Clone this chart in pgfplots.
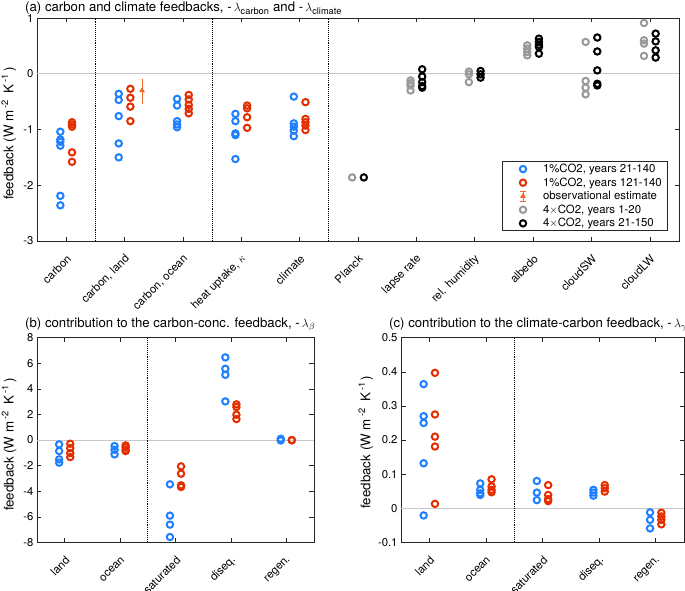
\documentclass[border=0pt]{standalone}
\usepackage{fontspec}
\setmainfont{TeX Gyre Heros}
\usepackage{amsmath}
\usepackage{pgfplots}
\pgfplotsset{compat=1.18}
\definecolor{mblue}{rgb}{0.12,0.50,1.00}
\definecolor{mred}{rgb}{0.90,0.18,0.00}
\definecolor{morange}{rgb}{0.93,0.42,0.15}
\definecolor{mgray}{rgb}{0.60,0.60,0.60}
\newcommand{\tkf}{\fontsize{11.3}{13}\selectfont}
\newcommand{\lbf}{\fontsize{13.3}{15}\selectfont}
\newcommand{\ttf}{\fontsize{13.2}{15}\selectfont}
\newcommand{\ylab}{feedback (W m\hspace{2.5pt}\textsuperscript{-2}\hspace{2.5pt} K\hspace{2pt}\textsuperscript{-1}\hspace{2pt})}
\pgfplotsset{
  myaxis/.style={
    scale only axis, anchor=north west,
    tick align=inside, major tick length=4.5pt,
    axis line style={black!85, line width=0.6pt},
    every tick/.style={black!85, line width=0.6pt},
    tick label style={font=\tkf},
    /pgf/number format/assume math mode=true,
    xticklabel style={anchor=east, inner sep=0pt, xshift=3pt, yshift=-16pt, rotate=45},
    legend image code/.code={\draw[##1] plot coordinates {(0pt,0pt)}; \path[draw=none,fill=none] (-18pt,-1pt) rectangle (17pt,1pt);},
  },
  obsleg/.style={legend image code/.code={\draw[morange, line width=1pt] (0pt,-5pt)--(0pt,5pt) (-3pt,-5pt)--(3pt,-5pt) (-3pt,5pt)--(3pt,5pt); \draw[##1] plot coordinates {(0pt,0pt)}; \path[draw=none,fill=none] (-18pt,-1pt) rectangle (17pt,1pt);}},
  bl/.style={only marks, mark=o, mark size=3.2pt, line width=2pt, color=mblue},
  rd/.style={only marks, mark=o, mark size=3.2pt, line width=2pt, color=mred},
  gr/.style={only marks, mark=o, mark size=3.2pt, line width=2pt, color=mgray},
  bk/.style={only marks, mark=o, mark size=3.2pt, line width=2pt, color=black},
  zl/.style={forget plot, black!22, line width=0.8pt},
  dl/.style={forget plot, black, line width=1.1pt, densely dotted},
}
\begin{document}
\begin{tikzpicture}
\useasboundingbox (0pt,0pt) rectangle (685pt,-591pt);
% titles
\node[anchor=base west, inner sep=0pt, font=\ttf] at (25pt,-11.7pt) {(a) carbon and climate feedbacks, -\,$\lambda_{\text{carbon}}$ and -\,$\lambda_{\text{climate}}$};
\node[anchor=base west, inner sep=0pt, font=\ttf] at (25pt,-327.7pt) {(b) contribution to the carbon-conc. feedback, -\,$\lambda_{\beta}$};
\node[anchor=base west, inner sep=0pt, font=\ttf] at (389pt,-327.7pt) {(c) contribution to the climate-carbon feedback, -\,$\lambda_{\gamma}$};
% ---------------- panel (a)
\begin{axis}[myaxis,
  at={(37pt,-18pt)}, width=642pt, height=223pt,
  xmin=0.5, xmax=11.5, ymin=-3, ymax=1,
  xtick={1,...,11},
  xticklabels={carbon,{carbon, land},{carbon, ocean},{heat uptake, $\kappa$},climate,Planck,lapse rate,rel. humidity,albedo,cloudSW,cloudLW},
  ytick={-3,-2,-1,0,1},
  ylabel={\ylab},
  every axis y label/.style={at={(axis description cs:-0.044,0.482)}, rotate=90, anchor=center, font=\lbf},
  legend style={at={(0.983,0.045)}, anchor=south east, draw=black!85, line width=0.6pt,
    font=\fontsize{11.4}{13}\selectfont, inner xsep=3pt, inner ysep=0.5pt,
    nodes={inner ysep=1.8pt, inner xsep=3pt}, cells={anchor=west}},
]
\addplot[zl] coordinates {(0.5,0) (11.5,0)};
\addplot[dl] coordinates {(1.5,-3) (1.5,1)};
\addplot[dl] coordinates {(3.5,-3) (3.5,1)};
\addplot[dl] coordinates {(5.5,-3) (5.5,1)};
\addplot[bl] coordinates {
 (0.9,-1.04) (0.9,-1.18) (0.9,-1.22) (0.9,-1.29) (0.9,-2.19) (0.9,-2.36)
 (1.9,-0.36) (1.9,-0.47) (1.9,-0.76) (1.9,-1.25) (1.9,-1.50)
 (2.9,-0.45) (2.9,-0.57) (2.9,-0.85) (2.9,-0.91) (2.9,-0.96)
 (3.9,-0.72) (3.9,-0.85) (3.9,-1.07) (3.9,-1.10) (3.9,-1.53)
 (4.9,-0.41) (4.9,-0.89) (4.9,-0.95) (4.9,-1.02) (4.9,-1.12)};
\addlegendentry{1\%CO2, years 21-140}
\addplot[rd] coordinates {
 (1.1,-0.87) (1.1,-0.91) (1.1,-0.95) (1.1,-1.41) (1.1,-1.58)
 (2.1,-0.27) (2.1,-0.43) (2.1,-0.59) (2.1,-0.85)
 (3.1,-0.38) (3.1,-0.46) (3.1,-0.56) (3.1,-0.63) (3.1,-0.71)
 (4.1,-0.57) (4.1,-0.62) (4.1,-0.78) (4.1,-0.97)
 (5.1,-0.51) (5.1,-0.81) (5.1,-0.87) (5.1,-0.93) (5.1,-1.01)};
\addlegendentry{1\%CO2, years 121-140}
\addplot[only marks, mark=triangle*, mark size=2.4pt, color=morange, line width=1pt, obsleg,
  error bars/.cd, y dir=both, y explicit,
  error bar style={line width=1pt, morange},
  error mark options={mark size=3pt, line width=1pt, morange}]
 coordinates {(2.3,-0.30) += (0,0.16) -= (0,0.19)};
\addlegendentry{observational estimate}
\addplot[gr] coordinates {
 (5.9,-1.86)
 (6.9,-0.12) (6.9,-0.17) (6.9,-0.21) (6.9,-0.30)
 (7.9,0.04) (7.9,-0.01) (7.9,-0.15)
 (8.9,0.51) (8.9,0.45) (8.9,0.39) (8.9,0.33)
 (9.9,0.57) (9.9,-0.13) (9.9,-0.25) (9.9,-0.37)
 (10.9,0.91) (10.9,0.60) (10.9,0.54) (10.9,0.32)};
\addlegendentry{4$\times$CO2, years 1-20}
\addplot[bk] coordinates {
 (6.1,-1.86)
 (7.1,0.08) (7.1,-0.05) (7.1,-0.15) (7.1,-0.22) (7.1,-0.25)
 (8.1,0.05) (8.1,-0.01) (8.1,-0.07)
 (9.1,0.63) (9.1,0.57) (9.1,0.52) (9.1,0.48) (9.1,0.36)
 (10.1,0.65) (10.1,0.40) (10.1,0.06) (10.1,-0.18) (10.1,-0.21)
 (11.1,0.72) (11.1,0.58) (11.1,0.42) (11.1,0.29)};
\addlegendentry{4$\times$CO2, years 21-150}
\end{axis}
% ---------------- panel (b)
\begin{axis}[myaxis,
  at={(37pt,-337.7pt)}, width=277pt, height=204.7pt,
  xmin=0.5, xmax=5.5, ymin=-8, ymax=8,
  xtick={1,...,5},
  xticklabels={land,ocean,saturated,diseq.,regen.},
  ytick={-8,-6,...,8},
  ylabel={\ylab},
  every axis y label/.style={at={(axis description cs:-0.101,0.478)}, rotate=90, anchor=center, font=\lbf},
]
\addplot[zl] coordinates {(0.5,0) (5.5,0)};
\addplot[dl] coordinates {(2.5,-8) (2.5,8)};
\addplot[bl] coordinates {
 (0.9,-0.34) (0.9,-0.86) (0.9,-1.51) (0.9,-1.77)
 (1.9,-0.47) (1.9,-0.76) (1.9,-1.12)
 (2.9,-3.46) (2.9,-5.91) (2.9,-6.61) (2.9,-7.58)
 (3.9,6.46) (3.9,5.57) (3.9,5.10) (3.9,3.02)
 (4.9,0.10) (4.9,-0.03)};
\addplot[rd] coordinates {
 (1.1,-0.29) (1.1,-0.63) (1.1,-1.02) (1.1,-1.33)
 (2.1,-0.42) (2.1,-0.57) (2.1,-0.76) (2.1,-0.86)
 (3.1,-2.06) (3.1,-2.63) (3.1,-3.54) (3.1,-3.67)
 (4.1,2.79) (4.1,2.58) (4.1,1.98) (4.1,1.64)
 (5.1,0.00) (5.1,-0.02)};
\end{axis}
% ---------------- panel (c)
\begin{axis}[myaxis,
  at={(401pt,-337.7pt)}, width=283pt, height=204.7pt,
  xmin=0.5, xmax=5.5, ymin=-0.1, ymax=0.5,
  xtick={1,...,5},
  xticklabels={land,ocean,saturated,diseq.,regen.},
  ytick={-0.1,0,0.1,0.2,0.3,0.4,0.5},
  yticklabel style={/pgf/number format/.cd, fixed, precision=1},
  ylabel={\ylab},
  every axis y label/.style={at={(axis description cs:-0.124,0.49)}, rotate=90, anchor=center, font=\lbf},
]
\addplot[zl] coordinates {(0.5,0) (5.5,0)};
\addplot[dl] coordinates {(2.5,-0.1) (2.5,0.5)};
\addplot[bl] coordinates {
 (0.9,0.364) (0.9,0.270) (0.9,0.250) (0.9,0.132) (0.9,-0.021)
 (1.9,0.073) (1.9,0.054) (1.9,0.044) (1.9,0.039)
 (2.9,0.080) (2.9,0.046) (2.9,0.024)
 (3.9,0.054) (3.9,0.046) (3.9,0.037)
 (4.9,-0.012) (4.9,-0.034) (4.9,-0.059)};
\addplot[rd] coordinates {
 (1.1,0.397) (1.1,0.275) (1.1,0.210) (1.1,0.181) (1.1,0.013)
 (2.1,0.085) (2.1,0.064) (2.1,0.054) (2.1,0.047)
 (3.1,0.068) (3.1,0.039) (3.1,0.027) (3.1,0.021)
 (4.1,0.068) (4.1,0.059) (4.1,0.049)
 (5.1,-0.013) (5.1,-0.024) (5.1,-0.034) (5.1,-0.047)};
\end{axis}
\end{tikzpicture}
\end{document}
